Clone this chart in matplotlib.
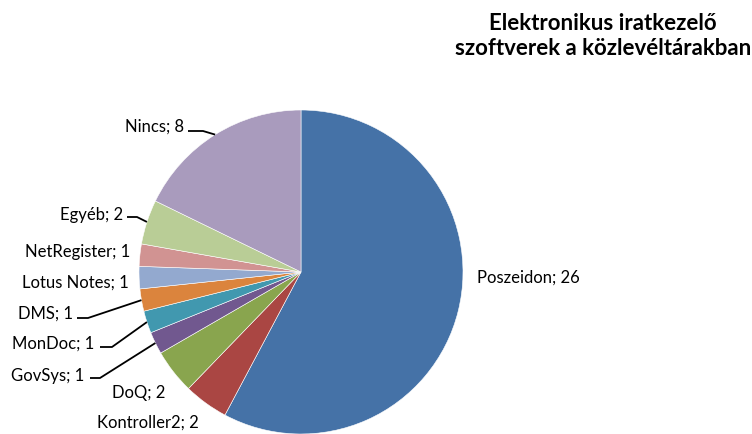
import matplotlib
matplotlib.use("Agg")
import matplotlib.pyplot as plt
import numpy as np

# ---- data ----
categories = ["Poszeidon", "Kontroller2", "DoQ", "GovSys", "MonDoc", "DMS",
              "Lotus Notes", "NetRegister", "Egyéb", "Nincs"]
values = [26, 2, 2, 1, 1, 1, 1, 1, 2, 8]
title = "Elektronikus iratkezelő\nszoftverek a közlevéltárakban"

colors = ["#4572A7", "#AA4643", "#89A54E", "#71588F", "#4198AF",
          "#DB843D", "#93A9CF", "#D19392", "#B9CD96", "#A99BBD"]

# ---- layout (pixel coordinates, y measured from top) ----
W, H = 752, 434
cx, cy, R = 301, 272, 162
# label anchor (x, y, ha)
label_pos = {
    "Poszeidon": (477, 278, "left"),
    "Kontroller2": (199, 423, "right"),
    "DoQ": (165, 393, "right"),
    "GovSys": (84, 376, "right"),
    "MonDoc": (94, 344, "right"),
    "DMS": (73, 314, "right"),
    "Lotus Notes": (129, 283, "right"),
    "NetRegister": (130, 252, "right"),
    "Egyéb": (123, 215, "right"),
    "Nincs": (184, 127, "right"),
}
# leader lines: (start x, elbow x, y of horizontal part)
leaders = {
    "Nincs": (188, 203, 131),
    "Egyéb": (127, 137, 217),
    "DMS": (77, 88, 318),
    "MonDoc": (100, 112, 347),
    "GovSys": (90, 100, 378),
}

plt.rcParams["font.family"] = ["Lato", "DejaVu Sans"]
fig = plt.figure(figsize=(W / 100, H / 100), dpi=100)
ax = fig.add_axes([0, 0, 1, 1])

def py(y):
    return H - y

wedges, _ = ax.pie(values, colors=colors, startangle=90, counterclock=False,
                   center=(cx, py(cy)), radius=R, frame=True,
                   wedgeprops=dict(edgecolor="white", linewidth=0.4))
ax.set_xlim(0, W)
ax.set_ylim(0, H)
ax.set_aspect("equal")
ax.axis("off")

for w, cat, v in zip(wedges, categories, values):
    x, y, ha = label_pos[cat]
    ax.text(x, py(y), f"{cat}; {v}", ha=ha, va="center", fontsize=12,
            color="#000000")
    if cat in leaders:
        sx, ex, ly = leaders[cat]
        ang = np.deg2rad((w.theta1 + w.theta2) / 2)
        px = cx + R * np.cos(ang)
        pyy = py(cy) + R * np.sin(ang)
        ax.plot([sx, ex, px], [py(ly), py(ly), pyy], color="black", lw=1.3,
                solid_capstyle="butt")

ax.text(603, py(36), title, ha="center", va="center", fontsize=16,
        fontweight="bold", linespacing=1.18)

fig.savefig("out.png", dpi=100)
